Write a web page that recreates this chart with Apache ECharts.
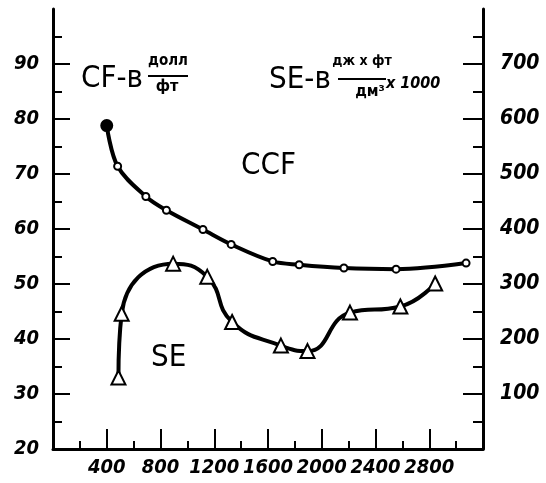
<!DOCTYPE html>
<html>
<head>
<meta charset="utf-8">
<script src="https://cdn.jsdelivr.net/npm/echarts@6/dist/echarts.min.js"></script>
<style>
  html, body { margin: 0; padding: 0; background: #fff; }
  #chart { width: 546px; height: 483px; }
</style>
</head>
<body>
<div id="chart"></div>
<script>
// ccf curve (left axis, dollars per foot)
var ccfX = [400, 481, 691, 844, 1116, 1326, 1635, 1832, 2165, 2553, 3074];
var ccfY = [78.8, 71.4, 65.9, 63.4, 59.9, 57.2, 54.1, 53.5, 52.9, 52.7, 53.8];
// se curve (right axis)
var seX = [487, 511, 894, 1148, 1333, 1696, 1894, 2210, 2585, 2844];
var seY = [130, 246, 337, 313, 231, 188, 178, 248, 259, 301];
// tick labels
var xTicks = [400, 800, 1200, 1600, 2000, 2400, 2800];
var leftTicks = [20, 30, 40, 50, 60, 70, 80, 90];
var rightTicks = [100, 200, 300, 400, 500, 600, 700];

var FONT = "'DejaVu Sans Condensed', 'Liberation Sans Narrow', sans-serif";

function pairs(xs, ys) {
    var out = [];
    for (var i = 0; i < xs.length; i++) out.push([xs[i], ys[i]]);
    return out;
}

var ccfData = pairs(ccfX, ccfY);
// first point is drawn as a big filled dot
ccfData[0] = { value: ccfData[0], symbol: 'circle', symbolSize: 11 };

var labelStyle = {
    color: '#000',
    fontFamily: FONT,
    fontStyle: 'italic',
    fontWeight: 'bold',
    formatter: function (v) { return String(v); }
};

var chart = echarts.init(document.getElementById('chart'));
var option = {
    backgroundColor: '#fff',
    animation: false,
    grid: { left: 53, right: 63, top: 9, bottom: 34 },
    xAxis: {
        type: 'value',
        min: 0,
        max: 3200,
        interval: 400,
        axisLine: { lineStyle: { color: '#000', width: 3 } },
        axisTick: { inside: true, length: 20, customValues: xTicks, lineStyle: { color: '#000', width: 2 } },
        minorTick: { show: true, splitNumber: 2, length: 8, lineStyle: { color: '#000', width: 2 } },
        splitLine: { show: false },
        axisLabel: Object.assign({ customValues: xTicks, fontSize: 20, margin: 9 }, labelStyle)
    },
    yAxis: [{
        type: 'value',
        position: 'left',
        min: 20,
        max: 100,
        interval: 10,
        axisLine: { show: true, lineStyle: { color: '#000', width: 3 } },
        axisTick: { show: true, inside: true, length: 17, customValues: leftTicks, lineStyle: { color: '#000', width: 2 } },
        minorTick: { show: true, splitNumber: 2, length: 9, lineStyle: { color: '#000', width: 2 } },
        splitLine: { show: false },
        axisLabel: Object.assign({ customValues: leftTicks, fontSize: 20, margin: 14 }, labelStyle)
    }, {
        type: 'value',
        position: 'right',
        min: 0,
        max: 800,
        interval: 100,
        axisLine: { show: true, lineStyle: { color: '#000', width: 3 } },
        axisTick: { show: true, inside: true, length: 20, customValues: rightTicks, lineStyle: { color: '#000', width: 2 } },
        minorTick: { show: true, splitNumber: 2, length: 10, lineStyle: { color: '#000', width: 2 } },
        splitLine: { show: false },
        axisLabel: Object.assign({ customValues: rightTicks, fontSize: 21, margin: 17 }, labelStyle)
    }],
    series: [{
        name: 'CCF',
        type: 'line',
        yAxisIndex: 0,
        smooth: 0.35,
        data: ccfData,
        symbol: 'emptyCircle',
        symbolSize: 7,
        lineStyle: { color: '#000', width: 4 },
        itemStyle: { color: '#000', borderColor: '#000', borderWidth: 2 },
        z: 3
    }, {
        name: 'SE',
        type: 'line',
        yAxisIndex: 1,
        smooth: 0.5,
        data: pairs(seX, seY),
        symbol: 'emptyTriangle',
        symbolSize: 14,
        lineStyle: { color: '#000', width: 4 },
        itemStyle: { color: '#000', borderColor: '#000', borderWidth: 2.5 },
        z: 4
    }],
    graphic: [
        { type: 'text', x: 81, y: 79, style: { text: 'CF-в', font: '31px ' + FONT, fill: '#000', verticalAlign: 'middle' } },
        { type: 'text', x: 168, y: 61, style: { text: 'долл', font: 'bold 15px ' + FONT, fill: '#000', align: 'center', verticalAlign: 'middle' } },
        { type: 'line', shape: { x1: 148, y1: 76, x2: 188, y2: 76 }, style: { stroke: '#000', lineWidth: 2 } },
        { type: 'text', x: 167, y: 87, style: { text: 'фт', font: 'bold 16px ' + FONT, fill: '#000', align: 'center', verticalAlign: 'middle' } },

        { type: 'text', x: 269, y: 80, style: { text: 'SE-в', font: '31px ' + FONT, fill: '#000', verticalAlign: 'middle' } },
        { type: 'text', x: 362, y: 61, style: { text: 'дж х фт', font: 'bold 14px ' + FONT, fill: '#000', align: 'center', verticalAlign: 'middle' } },
        { type: 'line', shape: { x1: 338, y1: 79, x2: 386, y2: 79 }, style: { stroke: '#000', lineWidth: 2 } },
        { type: 'text', x: 370, y: 92, style: { text: 'дм³', font: 'bold 16px ' + FONT, fill: '#000', align: 'center', verticalAlign: 'middle' } },
        { type: 'text', x: 386, y: 84, style: { text: 'х 1000', font: 'italic bold 16px ' + FONT, fill: '#000', verticalAlign: 'middle' } },

        { type: 'text', x: 241, y: 166, style: { text: 'CCF', font: '31px ' + FONT, fill: '#000', verticalAlign: 'middle' } },
        { type: 'text', x: 151, y: 358, style: { text: 'SE', font: '31px ' + FONT, fill: '#000', verticalAlign: 'middle' } }
    ]
};
chart.setOption(option);
</script>
</body>
</html>
